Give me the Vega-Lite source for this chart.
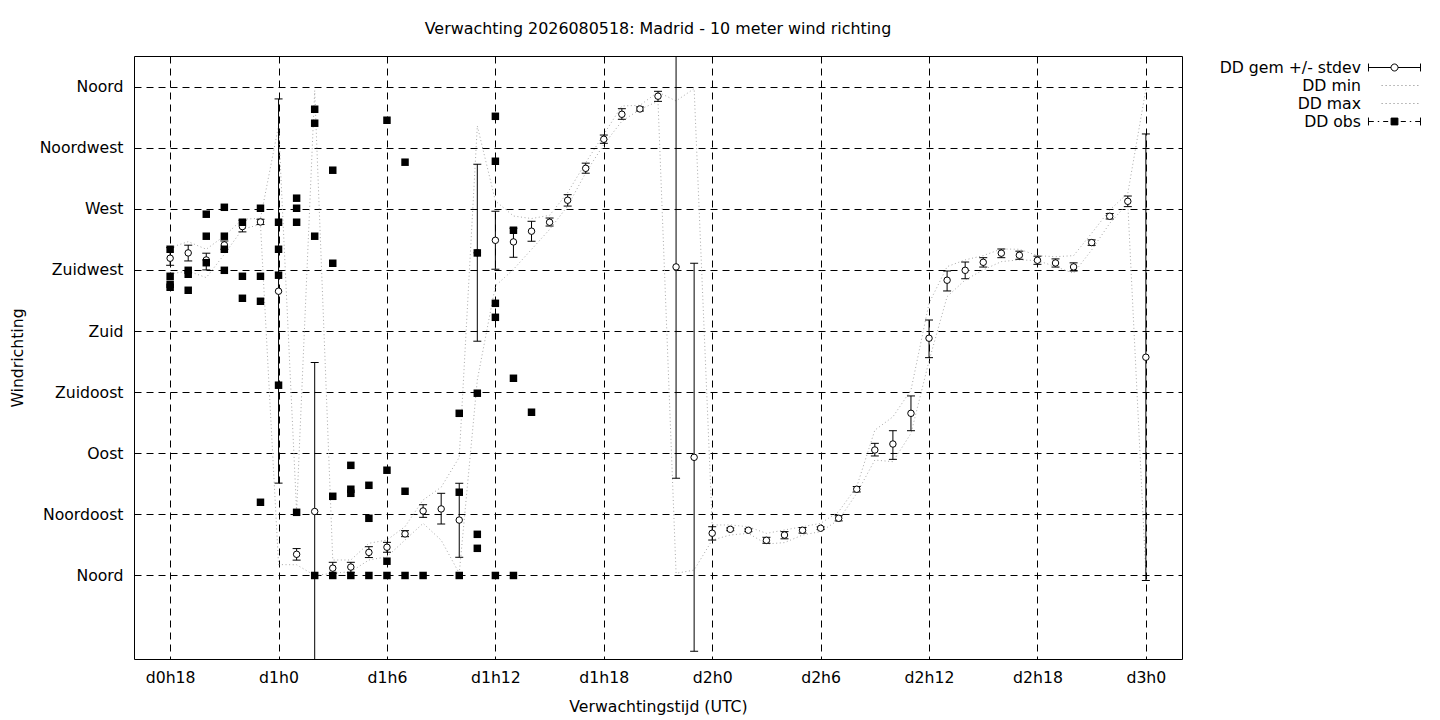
{
  "$schema": "https://vega.github.io/schema/vega-lite/v6.json",
  "width": 1048,
  "height": 603,
  "autosize": {"type": "none"},
  "padding": {"left": 134, "top": 56, "right": 258, "bottom": 61},
  "background": "white",
  "title": {"text": "Verwachting 2026080518: Madrid - 10 meter wind richting", "fontSize": 15.9, "fontWeight": "normal", "font": "DejaVu Sans", "color": "black", "anchor": "middle", "offset": 19},
  "config": {
    "font": "DejaVu Sans",
    "view": {"stroke": "black", "strokeWidth": 1},
    "axis": {
      "labelFont": "DejaVu Sans", "labelFontSize": 15.7, "labelColor": "black",
      "titleFont": "DejaVu Sans", "titleFontSize": 15.7, "titleFontWeight": "normal", "titleColor": "black",
      "grid": true, "gridColor": "black", "gridDash": [7, 5], "gridOpacity": 1, "gridWidth": 1,
      "domain": false, "ticks": false, "labelPadding": 11, "labelOverlap": false
    },
    "axisY": {"titlePadding": 14},
    "axisX": {"titlePadding": 15}
  },
  "datasets": {
    "ens": [
      {"h":18,"mean":233.6,"lo":228.4,"hi":241.4,"min":222.0,"max":241.4},
      {"h":19,"mean":237.5,"lo":231.6,"hi":243.2,"min":224.2,"max":245.8},
      {"h":20,"mean":232.3,"lo":225.0,"hi":237.3,"min":219.3,"max":240.2},
      {"h":21,"mean":243.4,"lo":240.2,"hi":246.3,"min":236.5,"max":250.0},
      {"h":22,"mean":256.9,"lo":253.0,"hi":261.6,"min":255.0,"max":262.3},
      {"h":23,"mean":260.3,"lo":258.4,"hi":262.3,"min":258.5,"max":263.0},
      {"h":24,"mean":209.3,"lo":68.0,"hi":350.9,"min":8.0,"max":331.0},
      {"h":25,"mean":15.6,"lo":11.3,"hi":19.8,"min":7.9,"max":47.0},
      {"h":26,"mean":47.1,"lo":-63.0,"hi":156.8,"min":0.0,"max":357.0},
      {"h":27,"mean":5.4,"lo":1.6,"hi":9.7,"min":1.6,"max":11.4},
      {"h":28,"mean":6.2,"lo":2.3,"hi":9.7,"min":2.8,"max":11.4},
      {"h":29,"mean":17.0,"lo":13.2,"hi":21.2,"min":11.4,"max":23.7},
      {"h":30,"mean":20.8,"lo":17.1,"hi":24.4,"min":13.8,"max":26.1},
      {"h":31,"mean":30.6,"lo":28.6,"hi":33.0,"min":26.1,"max":36.0},
      {"h":32,"mean":47.5,"lo":42.8,"hi":52.1,"min":38.4,"max":55.6},
      {"h":33,"mean":49.0,"lo":37.9,"hi":60.5,"min":26.0,"max":65.0},
      {"h":34,"mean":40.8,"lo":13.4,"hi":67.9,"min":1.6,"max":87.0},
      {"h":35,"mean":237.6,"lo":172.5,"hi":302.8,"min":144.0,"max":331.0},
      {"h":36,"mean":246.8,"lo":225.5,"hi":268.2,"min":213.2,"max":275.8},
      {"h":37,"mean":245.6,"lo":234.3,"hi":255.7,"min":225.4,"max":264.7},
      {"h":38,"mean":253.5,"lo":246.1,"hi":260.8,"min":240.1,"max":262.8},
      {"h":39,"mean":260.1,"lo":257.3,"hi":263.2,"min":254.8,"max":265.2},
      {"h":40,"mean":276.3,"lo":272.0,"hi":280.4,"min":272.0,"max":281.9},
      {"h":41,"mean":299.8,"lo":296.2,"hi":303.6,"min":296.5,"max":304.0},
      {"h":42,"mean":321.2,"lo":318.2,"hi":324.3,"min":317.3,"max":324.8},
      {"h":43,"mean":339.6,"lo":335.9,"hi":343.7,"min":334.5,"max":345.7},
      {"h":44,"mean":343.5,"lo":342.0,"hi":345.0,"min":343.1,"max":346.2},
      {"h":45,"mean":352.9,"lo":349.1,"hi":356.5,"min":349.2,"max":356.0},
      {"h":46,"mean":227.2,"lo":71.6,"hi":382.8,"min":1.6,"max":349.4},
      {"h":47,"mean":87.0,"lo":-55.8,"hi":229.9,"min":4.0,"max":358.5},
      {"h":48,"mean":31.1,"lo":26.1,"hi":35.9,"min":26.1,"max":37.2},
      {"h":49,"mean":34.0,"lo":33.0,"hi":35.0,"min":29.8,"max":37.2},
      {"h":50,"mean":33.3,"lo":32.3,"hi":34.3,"min":31.0,"max":35.9},
      {"h":51,"mean":25.9,"lo":23.7,"hi":28.1,"min":23.2,"max":31.0},
      {"h":52,"mean":29.8,"lo":27.0,"hi":32.3,"min":24.2,"max":33.5},
      {"h":53,"mean":33.3,"lo":31.2,"hi":35.3,"min":29.8,"max":35.9},
      {"h":54,"mean":34.8,"lo":33.8,"hi":35.8,"min":32.3,"max":38.4},
      {"h":55,"mean":42.1,"lo":40.2,"hi":44.0,"min":40.9,"max":47.0},
      {"h":56,"mean":63.5,"lo":61.5,"hi":65.5,"min":60.5,"max":65.4},
      {"h":57,"mean":92.4,"lo":88.0,"hi":97.3,"min":85.0,"max":107.0},
      {"h":58,"mean":96.8,"lo":85.5,"hi":106.6,"min":83.8,"max":116.8},
      {"h":59,"mean":119.4,"lo":106.6,"hi":132.2,"min":104.6,"max":136.5},
      {"h":60,"mean":174.7,"lo":160.4,"hi":188.1,"min":158.0,"max":200.4},
      {"h":61,"mean":217.4,"lo":209.5,"hi":224.2,"min":205.3,"max":227.4},
      {"h":62,"mean":224.7,"lo":218.5,"hi":230.8,"min":217.6,"max":232.4},
      {"h":63,"mean":230.6,"lo":227.1,"hi":234.0,"min":225.0,"max":235.5},
      {"h":64,"mean":237.3,"lo":234.0,"hi":240.4,"min":231.1,"max":240.4},
      {"h":65,"mean":235.8,"lo":232.8,"hi":238.8,"min":232.4,"max":240.2},
      {"h":66,"mean":232.1,"lo":229.1,"hi":235.1,"min":231.9,"max":235.5},
      {"h":67,"mean":230.1,"lo":227.1,"hi":233.1,"min":227.4,"max":234.7},
      {"h":68,"mean":227.2,"lo":224.2,"hi":230.2,"min":222.5,"max":235.5},
      {"h":69,"mean":245.1,"lo":243.1,"hi":247.1,"min":239.7,"max":252.0},
      {"h":70,"mean":264.5,"lo":262.5,"hi":266.5,"min":259.3,"max":269.1},
      {"h":71,"mean":275.5,"lo":271.6,"hi":279.4,"min":274.0,"max":281.4},
      {"h":72,"mean":160.7,"lo":-3.7,"hi":325.1,"min":1.0,"max":358.0}
    ],
    "obs": [
      {"h":18,"dd":240.2},{"h":18,"dd":220.3},{"h":18,"dd":214.4},{"h":18,"dd":212.2},
      {"h":19,"dd":224.7},{"h":19,"dd":221.8},{"h":19,"dd":210.0},
      {"h":20,"dd":266.0},{"h":20,"dd":249.8},{"h":20,"dd":230.3},
      {"h":21,"dd":271.1},{"h":21,"dd":249.8},{"h":21,"dd":240.2},{"h":21,"dd":224.7},
      {"h":22,"dd":260.1},{"h":22,"dd":220.3},{"h":22,"dd":204.1},
      {"h":23,"dd":270.4},{"h":23,"dd":220.3},{"h":23,"dd":201.9},{"h":23,"dd":53.9},
      {"h":24,"dd":260.1},{"h":24,"dd":240.2},{"h":24,"dd":221.1},{"h":24,"dd":140.1},
      {"h":25,"dd":277.8},{"h":25,"dd":270.4},{"h":25,"dd":260.1},{"h":25,"dd":46.5},
      {"h":26,"dd":343.3},{"h":26,"dd":333.0},{"h":26,"dd":249.8},{"h":26,"dd":0.0},
      {"h":27,"dd":298.4},{"h":27,"dd":229.9},{"h":27,"dd":58.3},{"h":27,"dd":0.0},
      {"h":28,"dd":81.1},{"h":28,"dd":63.5},{"h":28,"dd":60.5},{"h":28,"dd":0.0},
      {"h":29,"dd":66.4},{"h":29,"dd":42.1},{"h":29,"dd":0.0},
      {"h":30,"dd":335.2},{"h":30,"dd":77.5},{"h":30,"dd":10.5},{"h":30,"dd":0.0},
      {"h":31,"dd":304.3},{"h":31,"dd":62.0},{"h":31,"dd":0.0},
      {"h":32,"dd":0.0},
      {"h":34,"dd":119.4},{"h":34,"dd":61.3},{"h":34,"dd":0.0},
      {"h":35,"dd":237.5},{"h":35,"dd":134.2},{"h":35,"dd":30.3},{"h":35,"dd":20.0},
      {"h":36,"dd":338.1},{"h":36,"dd":305.0},{"h":36,"dd":200.4},{"h":36,"dd":190.1},{"h":36,"dd":0.0},
      {"h":37,"dd":254.2},{"h":37,"dd":145.2},{"h":37,"dd":0.0},
      {"h":38,"dd":120.2}
    ],
    "legend": [
      {"series": "DD gem +/- stdev"},
      {"series": "DD min"},
      {"series": "DD max"},
      {"series": "DD obs"}
    ]
  },
  "data": {"name": "ens"},
  "encoding": {
    "x": {
      "field": "h", "type": "quantitative",
      "scale": {"domain": [16, 74], "nice": false, "zero": false},
      "axis": {"title": "Verwachtingstijd (UTC)", "values": [18, 24, 30, 36, 42, 48, 54, 60, 66, 72], "labelExpr": "'d' + floor(datum.value / 24) + 'h' + (datum.value % 24)"}
    },
    "y": {
      "field": "mean", "type": "quantitative",
      "scale": {"domain": [-61.5, 382.5], "nice": false, "zero": false},
      "axis": {"title": "Windrichting", "values": [0, 45, 90, 135, 180, 225, 270, 315, 360], "labelExpr": "['Noord','Noordoost','Oost','Zuidoost','Zuid','Zuidwest','West','Noordwest','Noord'][round(datum.value / 45)]"}
    }
  },
  "layer": [
    {
      "mark": {"type": "line", "stroke": "#a8a8a8", "strokeWidth": 1, "strokeDash": [1, 2.6], "clip": true},
      "encoding": {"y": {"field": "min", "type": "quantitative"}}
    },
    {
      "mark": {"type": "line", "stroke": "#a8a8a8", "strokeWidth": 1, "strokeDash": [1, 2.6], "clip": true},
      "encoding": {"y": {"field": "max", "type": "quantitative"}}
    },
    {
      "mark": {"type": "rule", "stroke": "black", "strokeWidth": 1, "clip": true},
      "encoding": {"y": {"field": "lo", "type": "quantitative"}, "y2": {"field": "hi"}}
    },
    {
      "mark": {"type": "tick", "orient": "horizontal", "size": 8, "thickness": 1, "color": "black", "opacity": 1, "clip": true},
      "encoding": {"y": {"field": "lo", "type": "quantitative"}}
    },
    {
      "mark": {"type": "tick", "orient": "horizontal", "size": 8, "thickness": 1, "color": "black", "opacity": 1, "clip": true},
      "encoding": {"y": {"field": "hi", "type": "quantitative"}}
    },
    {
      "mark": {"type": "point", "shape": "circle", "filled": true, "fill": "white", "stroke": "black", "strokeWidth": 1, "size": 42, "opacity": 1},
      "encoding": {"y": {"field": "mean", "type": "quantitative"}}
    },
    {
      "data": {"name": "obs"},
      "mark": {"type": "square", "size": 56, "fill": "black", "stroke": "black", "strokeWidth": 0, "opacity": 1},
      "encoding": {"y": {"field": "dd", "type": "quantitative"}}
    },
    {
      "data": {"name": "legend"},
      "mark": {"type": "point", "opacity": 0, "filled": false},
      "encoding": {
        "shape": {
          "field": "series", "type": "nominal",
          "scale": {
            "domain": ["DD gem +/- stdev", "DD min", "DD max", "DD obs"],
            "range": [
              "M-2.889,-0.44L-2.889,0.44M2.889,-0.44L2.889,0.44M-2.889,0L-0.39,0M0.39,0L2.889,0M-0.39,0A0.39,0.39,0,1,1,0.39,0A0.39,0.39,0,1,1,-0.39,0Z",
              "M-1.45,0L-1.29,0M-1.01,0L-0.85,0M-0.57,0L-0.41,0M-0.13,0L0.03,0M0.31,0L0.47,0M0.75,0L0.91,0M1.19,0L1.35,0M1.63,0L1.79,0M2.07,0L2.23,0M2.51,0L2.67,0",
              "M-1.45,0L-1.29,0M-1.01,0L-0.85,0M-0.57,0L-0.41,0M-0.13,0L0.03,0M0.31,0L0.47,0M0.75,0L0.91,0M1.19,0L1.35,0M1.63,0L1.79,0M2.07,0L2.23,0M2.51,0L2.67,0",
              "M-2.889,-0.44L-2.889,0.44M2.889,-0.44L2.889,0.44M-2.889,0L-2.3,0M-1.86,0L-1.7,0M-1.26,0L-0.7,0M0.7,0L1.26,0M1.7,0L1.86,0M2.3,0L2.889,0M-0.38,-0.38L0.38,-0.38L0.38,0.38L-0.38,0.38Z"
            ]
          },
          "legend": {"title": null, "orient": "none", "legendX": 1236, "legendY": 2, "labelAlign": "right", "labelOffset": -43, "symbolOffset": 15, "symbolSize": 324, "symbolStrokeWidth": 1, "symbolOpacity": 1, "labelFontSize": 15.7, "labelColor": "black", "labelFont": "DejaVu Sans", "padding": 0, "rowPadding": 0, "labelLimit": 300}
        },
        "stroke": {
          "field": "series", "type": "nominal",
          "scale": {"domain": ["DD gem +/- stdev", "DD min", "DD max", "DD obs"], "range": ["black", "#a8a8a8", "#a8a8a8", "black"]},
          "legend": {"title": null, "orient": "none", "legendX": 1236, "legendY": 2, "labelAlign": "right", "labelOffset": -43, "symbolOffset": 15, "symbolSize": 324, "symbolStrokeWidth": 1, "symbolOpacity": 1, "labelFontSize": 15.7, "labelColor": "black", "labelFont": "DejaVu Sans", "padding": 0, "rowPadding": 0, "labelLimit": 300}
        },
        "fill": {
          "field": "series", "type": "nominal",
          "scale": {"domain": ["DD gem +/- stdev", "DD min", "DD max", "DD obs"], "range": ["white", "transparent", "transparent", "black"]},
          "legend": {"title": null, "orient": "none", "legendX": 1236, "legendY": 2, "labelAlign": "right", "labelOffset": -43, "symbolOffset": 15, "symbolSize": 324, "symbolStrokeWidth": 1, "symbolOpacity": 1, "labelFontSize": 15.7, "labelColor": "black", "labelFont": "DejaVu Sans", "padding": 0, "rowPadding": 0, "labelLimit": 300}
        }
      }
    }
  ]
}
